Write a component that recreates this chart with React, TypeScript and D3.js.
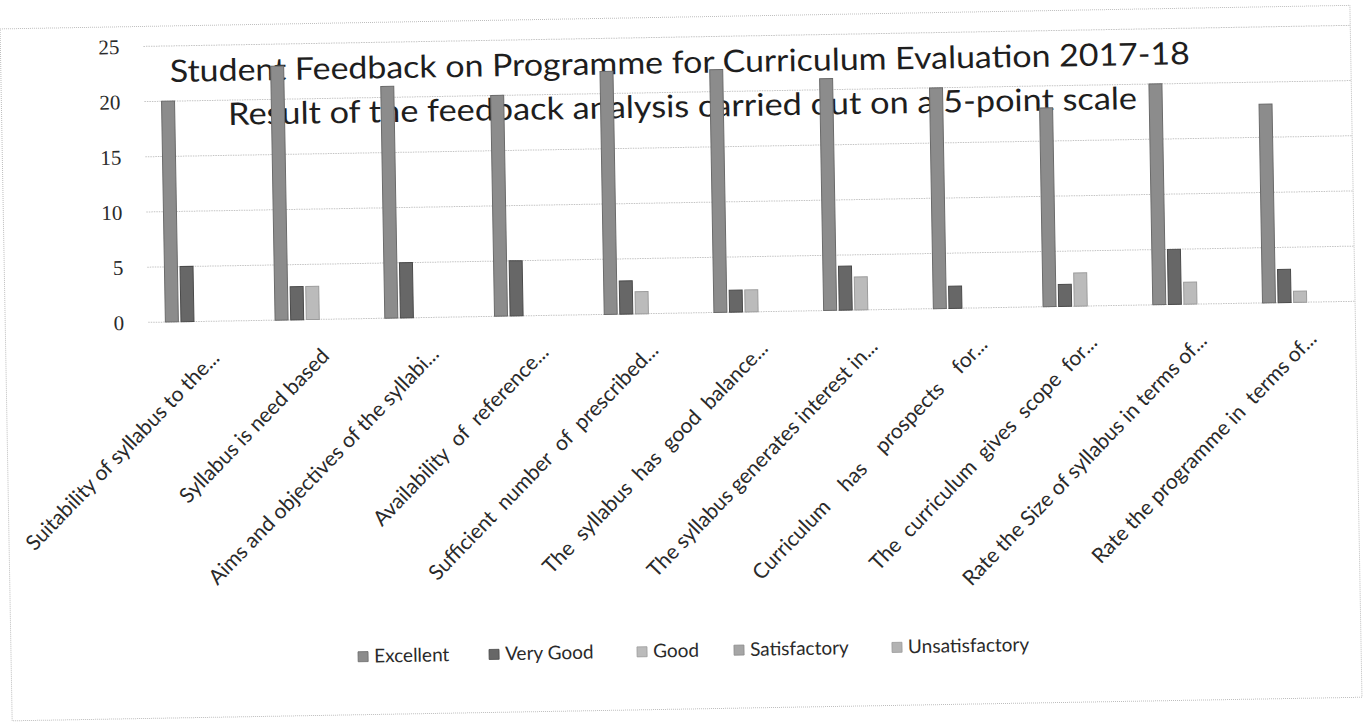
import React from "react";
import * as d3 from "d3";

const categories = [
  "Suitability of syllabus to the...",
  "Syllabus is need based",
  "Aims and objectives of the syllabi...",
  "Availability  of  reference...",
  "Sufficient  number  of  prescribed...",
  "The  syllabus  has  good  balance...",
  "The syllabus generates interest in...",
  "Curriculum    has    prospects    for...",
  "The  curriculum  gives  scope  for...",
  "Rate the Size of syllabus in terms of...",
  "Rate the programme in  terms of...",
];
const seriesNames = ["Excellent", "Very Good", "Good", "Satisfactory", "Unsatisfactory"];
const excellent = [20, 23, 21, 20, 22, 22, 21, 20, 18, 20, 18];
const veryGood = [5, 3, 5, 5, 3, 2, 4, 2, 2, 5, 3];
const good = [0, 3, 0, 0, 2, 2, 3, 0, 3, 2, 1];
const satisfactory = [0, 0, 0, 0, 0, 0, 0, 0, 0, 0, 0];
const unsatisfactory = [0, 0, 0, 0, 0, 0, 0, 0, 0, 0, 0];
const yTicks = [0, 5, 10, 15, 20, 25];
const titleLine1 = "Student Feedback on Programme for Curriculum Evaluation 2017-18";
const titleLine2 = "Result of the feedback analysis carried out on a 5-point scale";

const seriesValues = [excellent, veryGood, good, satisfactory, unsatisfactory];
const colors = ["#8c8c8c", "#676767", "#bbbbbb", "#a6a6a6", "#b3b3b3"];
const strokes = ["#6a6a6a", "#4a4a4a", "#9c9c9c", "#8a8a8a", "#999"];

const W = 1371;
const H = 724;
const LEGEND_X = [353, 484, 632, 729, 887];

export default function App() {
  const x0 = d3.scaleBand<string>().domain(categories).range([149, 1356]).padding(0);
  const bw = x0.bandwidth();
  const x1 = d3
    .scaleBand<string>()
    .domain(seriesNames)
    .range([bw / 2 - 37.7, bw / 2 + 37.7])
    .paddingInner(0.167)
    .paddingOuter(0);
  const y = d3.scaleLinear().domain([0, 25]).range([313, 37]);
  const labelFont = "Lato, 'Open Sans', sans-serif";

  return (
    <svg
      width={W}
      height={H}
      style={{ position: "absolute", left: 0, top: 0, background: "#fff" }}
    >
      <g transform={`rotate(-1, ${W / 2}, ${H / 2})`}>
        <rect x={6} y={17} width={1350} height={692} fill="#fff" stroke="#bdbdbd" strokeDasharray="1,1" />
        {yTicks.map((t) => (
          <g key={t}>
            <line x1={149} x2={1356} y1={y(t)} y2={y(t)} stroke="#c4c4c4" strokeDasharray="1.5,1" strokeWidth={1} />
            <text
              x={125}
              y={y(t)}
              dy="0.35em"
              textAnchor="end"
              fontFamily="'Liberation Serif', 'DejaVu Serif', serif"
              fontSize={21}
              fill="#2a2a2a"
            >
              {t}
            </text>
          </g>
        ))}
        <text
          x={685}
          y={73}
          textAnchor="middle"
          fontFamily={labelFont}
          fontSize={31}
          fill="#1e1e1e"
          textLength={1020}
          lengthAdjust="spacingAndGlyphs"
        >
          {titleLine1}
        </text>
        <text
          x={687}
          y={117}
          textAnchor="middle"
          fontFamily={labelFont}
          fontSize={31}
          fill="#1e1e1e"
          textLength={909}
          lengthAdjust="spacingAndGlyphs"
        >
          {titleLine2}
        </text>
        {categories.map((c, i) => (
          <g key={c} transform={`translate(${x0(c)},0)`}>
            {seriesNames.map((s, k) => {
              const v = seriesValues[k][i];
              if (!v) return null;
              return (
                <rect
                  key={s}
                  x={x1(s)}
                  y={y(v)}
                  width={x1.bandwidth()}
                  height={y(0) - y(v)}
                  fill={colors[k]}
                  stroke={strokes[k]}
                  strokeWidth={1}
                />
              );
            })}
          </g>
        ))}
        {categories.map((c) => {
          const cx = (x0(c) as number) + bw / 2 + 17;
          const cy = 351;
          return (
            <text
              key={c}
              x={cx}
              y={cy}
              transform={`rotate(-45, ${cx}, ${cy})`}
              textAnchor="end"
              fontFamily={labelFont}
              fontSize={21}
              fill="#2a2a2a"
              style={{ whiteSpace: "pre" }}
            >
              {c}
            </text>
          );
        })}
        {seriesNames.map((s, k) => (
          <g key={s} transform={`translate(${LEGEND_X[k]},657)`}>
            <rect x={0} y={-11} width={10} height={10} fill={colors[k]} stroke={strokes[k]} strokeWidth={0.8} />
            <text x={16} y={0} fontFamily={labelFont} fontSize={19} fill="#2a2a2a">
              {s}
            </text>
          </g>
        ))}
      </g>
    </svg>
  );
}
